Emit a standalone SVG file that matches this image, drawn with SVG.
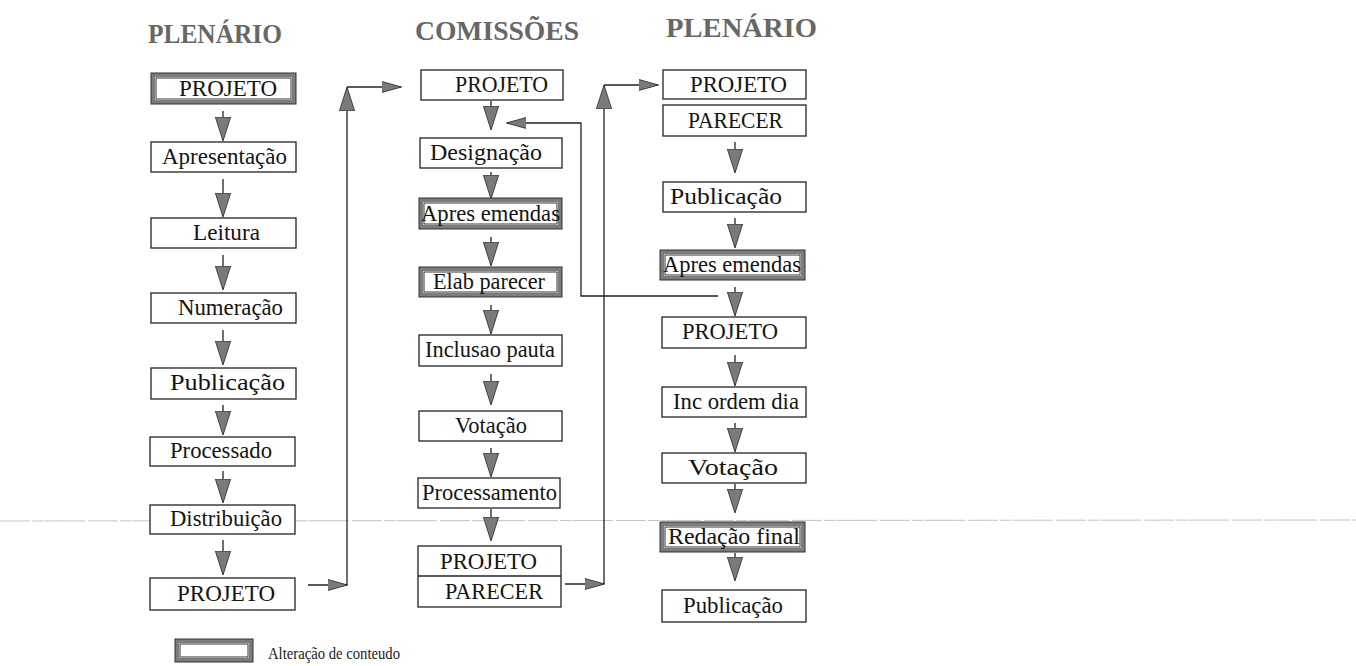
<svg xmlns="http://www.w3.org/2000/svg" width="1356" height="666" viewBox="0 0 1356 666">
  <style>
    .box { fill: #ffffff; stroke: #222; stroke-width: 1.3; }
    .band { fill: #7c7c7c; stroke: #333; stroke-width: 1; }
    .inner { fill: #ffffff; stroke: none; }
    .innerline { fill: none; stroke: #333; stroke-width: 1; }
    .lbl { font-family: "Liberation Serif", "Times New Roman", serif; font-size: 23px; fill: #141414; }
    .hdr { font-family: "Liberation Serif", "Times New Roman", serif; font-size: 28px; font-weight: bold; fill: #676767; }
    .leg { font-family: "Liberation Serif", "Times New Roman", serif; font-size: 16px; fill: #222; }
    .wire { fill: none; stroke: #222; stroke-width: 1.3; }
    .scan { stroke: #c4c4c4; stroke-width: 1; stroke-dasharray: 30 2 12 1 40 3; }
  </style>
  <defs>
    <marker id="head" markerUnits="userSpaceOnUse" markerWidth="24" markerHeight="16" viewBox="0 0 22 14" refX="21" refY="7" orient="auto">
      <path d="M0,0 L22,7 L0,14 Z" fill="#7a7a7a" stroke="#333" stroke-width="0.8"/>
    </marker>
    <marker id="head-s" markerUnits="userSpaceOnUse" markerWidth="20" markerHeight="12" viewBox="0 0 18 10" refX="17.5" refY="5" orient="auto">
      <path d="M0,0 L18,5 L0,10 Z" fill="#7a7a7a" stroke="#333" stroke-width="0.8"/>
    </marker>
  </defs>

  <rect width="1356" height="666" fill="#ffffff"/>

  <!-- faint horizontal rule across the sheet -->
  <line class="scan" x1="0" y1="521" x2="1356" y2="520"/>

  <!-- column headings -->
  <g id="headings">
    <text class="hdr" x="148" y="43" textLength="134" lengthAdjust="spacingAndGlyphs">PLENÁRIO</text>
    <text class="hdr" x="415" y="40" textLength="164" lengthAdjust="spacingAndGlyphs">COMISSÕES</text>
    <text class="hdr" x="666" y="37" textLength="151" lengthAdjust="spacingAndGlyphs">PLENÁRIO</text>
  </g>

  <!-- connectors -->
  <g id="connectors">
    <!-- plenário (left) chain -->
    <line class="wire" x1="223" y1="111" x2="223" y2="140" marker-end="url(#head)"/>
    <line class="wire" x1="223" y1="179" x2="223" y2="216" marker-end="url(#head)"/>
    <line class="wire" x1="223" y1="255" x2="223" y2="289" marker-end="url(#head)"/>
    <line class="wire" x1="223" y1="330" x2="223" y2="364" marker-end="url(#head)"/>
    <line class="wire" x1="223" y1="405" x2="223" y2="434" marker-end="url(#head)"/>
    <line class="wire" x1="223" y1="471" x2="223" y2="502" marker-end="url(#head)"/>
    <line class="wire" x1="223" y1="540" x2="223" y2="574" marker-end="url(#head)"/>

    <!-- plenário -> comissões -->
    <line class="wire" x1="308" y1="585" x2="347" y2="585" marker-end="url(#head-s)"/>
    <line class="wire" x1="347" y1="585" x2="347" y2="88" marker-end="url(#head)"/>
    <line class="wire" x1="347" y1="87" x2="401" y2="87" marker-end="url(#head-s)"/>

    <!-- comissões chain -->
    <line class="wire" x1="491" y1="101" x2="491" y2="129" marker-end="url(#head)"/>
    <line class="wire" x1="491" y1="172" x2="491" y2="198" marker-end="url(#head)"/>
    <line class="wire" x1="491" y1="237" x2="491" y2="265" marker-end="url(#head)"/>
    <line class="wire" x1="491" y1="305" x2="491" y2="333" marker-end="url(#head)"/>
    <line class="wire" x1="491" y1="374" x2="491" y2="404" marker-end="url(#head)"/>
    <line class="wire" x1="491" y1="448" x2="491" y2="476" marker-end="url(#head)"/>
    <line class="wire" x1="491" y1="509" x2="491" y2="540" marker-end="url(#head)"/>

    <!-- comissões -> plenário (right) -->
    <line class="wire" x1="565" y1="584" x2="604" y2="584" marker-end="url(#head-s)"/>
    <line class="wire" x1="604" y1="584" x2="604" y2="86" marker-end="url(#head)"/>
    <line class="wire" x1="604" y1="85" x2="658" y2="85" marker-end="url(#head-s)"/>

    <!-- return of amendments to the committees -->
    <path class="wire" d="M718,296 H581 V123 H507" marker-end="url(#head-s)"/>

    <!-- plenário (right) chain -->
    <line class="wire" x1="735" y1="142" x2="735" y2="172" marker-end="url(#head)"/>
    <line class="wire" x1="735" y1="218" x2="735" y2="247" marker-end="url(#head)"/>
    <line class="wire" x1="735" y1="287" x2="735" y2="315" marker-end="url(#head)"/>
    <line class="wire" x1="735" y1="355" x2="735" y2="385" marker-end="url(#head)"/>
    <line class="wire" x1="735" y1="423" x2="735" y2="451" marker-end="url(#head)"/>
    <line class="wire" x1="735" y1="484" x2="735" y2="512" marker-end="url(#head)"/>
    <line class="wire" x1="735" y1="553" x2="735" y2="580" marker-end="url(#head)"/>
  </g>

  <!-- plenário (left) -->
  <g id="p1-projeto">
    <rect class="band" x="151" y="73" width="145" height="31"/>
    <rect class="inner" x="155" y="77" width="137" height="23"/>
    <rect class="innerline" x="156" y="78" width="135" height="21"/>
    <text class="lbl" x="179" y="96" textLength="98" lengthAdjust="spacingAndGlyphs">PROJETO</text>
  </g>
  <g id="p1-apresentacao">
    <rect class="box" x="151" y="142" width="145" height="30"/>
    <text class="lbl" x="162" y="164" textLength="125" lengthAdjust="spacingAndGlyphs">Apresentação</text>
  </g>
  <g id="p1-leitura">
    <rect class="box" x="151" y="218" width="145" height="30"/>
    <text class="lbl" x="193" y="240" textLength="67" lengthAdjust="spacingAndGlyphs">Leitura</text>
  </g>
  <g id="p1-numeracao">
    <rect class="box" x="151" y="293" width="145" height="30"/>
    <text class="lbl" x="178" y="315" textLength="105" lengthAdjust="spacingAndGlyphs">Numeração</text>
  </g>
  <g id="p1-publicacao">
    <rect class="box" x="151" y="368" width="145" height="31"/>
    <text class="lbl" x="170" y="390" textLength="115" lengthAdjust="spacingAndGlyphs">Publicação</text>
  </g>
  <g id="p1-processado">
    <rect class="box" x="150" y="437" width="145" height="29"/>
    <text class="lbl" x="170" y="458" textLength="102" lengthAdjust="spacingAndGlyphs">Processado</text>
  </g>
  <g id="p1-distribuicao">
    <rect class="box" x="150" y="505" width="145" height="29"/>
    <text class="lbl" x="170" y="526" textLength="112" lengthAdjust="spacingAndGlyphs">Distribuição</text>
  </g>
  <g id="p1-projeto-final">
    <rect class="box" x="150" y="578" width="145" height="32"/>
    <text class="lbl" x="177" y="601" textLength="98" lengthAdjust="spacingAndGlyphs">PROJETO</text>
  </g>

  <!-- comissões -->
  <g id="c-projeto">
    <rect class="box" x="421" y="70" width="142" height="30"/>
    <text class="lbl" x="455" y="92" textLength="93" lengthAdjust="spacingAndGlyphs">PROJETO</text>
  </g>
  <g id="c-designacao">
    <rect class="box" x="420" y="138" width="142" height="30"/>
    <text class="lbl" x="430" y="160" textLength="112" lengthAdjust="spacingAndGlyphs">Designação</text>
  </g>
  <g id="c-apres-emendas">
    <rect class="band" x="419" y="198" width="143" height="31"/>
    <rect class="inner" x="423" y="202" width="135" height="23"/>
    <rect class="innerline" x="424" y="203" width="133" height="21"/>
    <text class="lbl" x="421" y="221" textLength="139" lengthAdjust="spacingAndGlyphs">Apres emendas</text>
  </g>
  <g id="c-elab-parecer">
    <rect class="band" x="419" y="267" width="143" height="30"/>
    <rect class="inner" x="423" y="271" width="135" height="22"/>
    <rect class="innerline" x="424" y="272" width="133" height="20"/>
    <text class="lbl" x="433" y="289" textLength="112" lengthAdjust="spacingAndGlyphs">Elab parecer</text>
  </g>
  <g id="c-inclusao-pauta">
    <rect class="box" x="419" y="335" width="143" height="31"/>
    <text class="lbl" x="425" y="357" textLength="130" lengthAdjust="spacingAndGlyphs">Inclusao pauta</text>
  </g>
  <g id="c-votacao">
    <rect class="box" x="419" y="411" width="143" height="30"/>
    <text class="lbl" x="455" y="433" textLength="72" lengthAdjust="spacingAndGlyphs">Votação</text>
  </g>
  <g id="c-processamento">
    <rect class="box" x="418" y="478" width="142" height="30"/>
    <text class="lbl" x="422" y="500" textLength="135" lengthAdjust="spacingAndGlyphs">Processamento</text>
  </g>
  <g id="c-projeto-parecer">
    <rect class="box" x="418" y="546" width="143" height="61"/>
    <line x1="418" y1="576" x2="561" y2="576" stroke="#222" stroke-width="1.3"/>
    <text class="lbl" x="440" y="569" textLength="97" lengthAdjust="spacingAndGlyphs">PROJETO</text>
    <text class="lbl" x="445" y="599" textLength="98" lengthAdjust="spacingAndGlyphs">PARECER</text>
  </g>

  <!-- plenário (right) -->
  <g id="p2-projeto">
    <rect class="box" x="663" y="70" width="143" height="29"/>
    <text class="lbl" x="690" y="92" textLength="97" lengthAdjust="spacingAndGlyphs">PROJETO</text>
  </g>
  <g id="p2-parecer">
    <rect class="box" x="663" y="105" width="143" height="31"/>
    <text class="lbl" x="688" y="128" textLength="95" lengthAdjust="spacingAndGlyphs">PARECER</text>
  </g>
  <g id="p2-publicacao">
    <rect class="box" x="663" y="182" width="143" height="30"/>
    <text class="lbl" x="670" y="204" textLength="112" lengthAdjust="spacingAndGlyphs">Publicação</text>
  </g>
  <g id="p2-apres-emendas">
    <rect class="band" x="660" y="250" width="145" height="30"/>
    <rect class="inner" x="664" y="254" width="137" height="22"/>
    <rect class="innerline" x="665" y="255" width="135" height="20"/>
    <text class="lbl" x="663" y="272" textLength="138" lengthAdjust="spacingAndGlyphs">Apres emendas</text>
  </g>
  <g id="p2-projeto-2">
    <rect class="box" x="662" y="317" width="144" height="31"/>
    <text class="lbl" x="682" y="339" textLength="96" lengthAdjust="spacingAndGlyphs">PROJETO</text>
  </g>
  <g id="p2-inc-ordem-dia">
    <rect class="box" x="662" y="387" width="144" height="30"/>
    <text class="lbl" x="673" y="409" textLength="126" lengthAdjust="spacingAndGlyphs">Inc ordem dia</text>
  </g>
  <g id="p2-votacao">
    <rect class="box" x="662" y="453" width="144" height="30"/>
    <text class="lbl" x="688" y="475" textLength="90" lengthAdjust="spacingAndGlyphs">Votação</text>
  </g>
  <g id="p2-redacao-final">
    <rect class="band" x="660" y="522" width="145" height="30"/>
    <rect class="inner" x="664" y="526" width="137" height="22"/>
    <rect class="innerline" x="665" y="527" width="135" height="20"/>
    <text class="lbl" x="668" y="544" textLength="132" lengthAdjust="spacingAndGlyphs">Redação final</text>
  </g>
  <g id="p2-publicacao-final">
    <rect class="box" x="662" y="590" width="144" height="32"/>
    <text class="lbl" x="683" y="613" textLength="100" lengthAdjust="spacingAndGlyphs">Publicação</text>
  </g>

  <!-- legend -->
  <g id="legend">
    <rect class="band" x="175" y="639" width="78" height="23"/>
    <rect class="inner" x="179" y="643" width="70" height="15"/>
    <rect class="innerline" x="180" y="644" width="68" height="13"/>
    <text class="leg" x="268" y="659" textLength="132" lengthAdjust="spacingAndGlyphs">Alteração de conteudo</text>
  </g>
</svg>
